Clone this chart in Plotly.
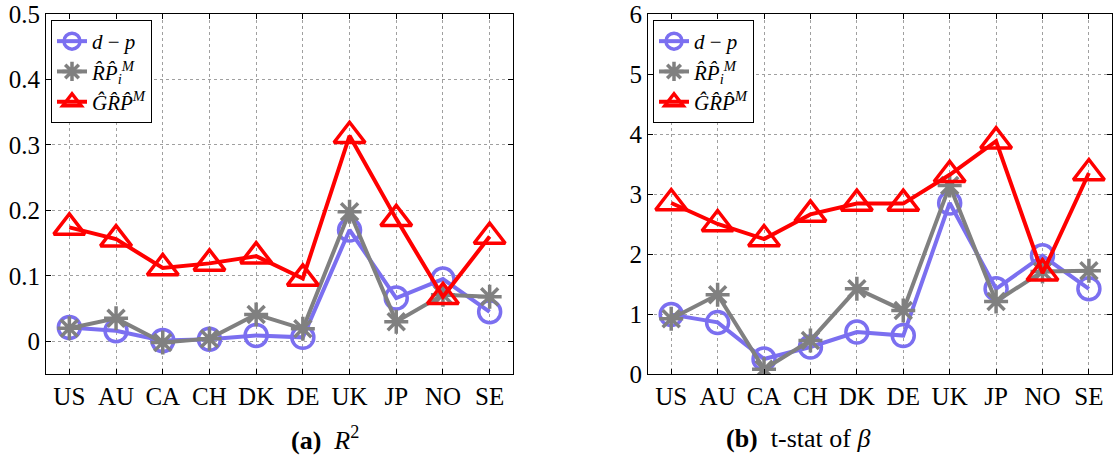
import plotly.graph_objects as go

countries = ["US", "AU", "CA", "CH", "DK", "DE", "UK", "JP", "NO", "SE"]

# Panel (a): R^2
r2_dp = [0.021, 0.016, 0.001, 0.003, 0.009, 0.006, 0.170, 0.066, 0.095, 0.045]
r2_rp = [0.020, 0.035, -0.002, 0.004, 0.041, 0.019, 0.198, 0.030, 0.071, 0.068]
r2_grp = [0.174, 0.156, 0.112, 0.119, 0.130, 0.096, 0.314, 0.187, 0.068, 0.160]

# Panel (b): t-stat of beta
t_dp = [0.99, 0.86, 0.25, 0.45, 0.70, 0.64, 2.85, 1.42, 1.97, 1.42]
t_rp = [0.92, 1.32, 0.08, 0.56, 1.42, 1.06, 3.14, 1.21, 1.71, 1.72]
t_grp = [2.85, 2.50, 2.25, 2.66, 2.84, 2.84, 3.32, 3.88, 1.68, 3.35]
t_crit = 1.96

r2_ticks = [0, 0.1, 0.2, 0.3, 0.4, 0.5]
r2_ticklabels = ["0", "0.1", "0.2", "0.3", "0.4", "0.5"]
t_ticks = [0, 1, 2, 3, 4, 5, 6]

names = ["<i>d</i> − <i>p</i>",
         "<i>R̂P̂</i><sub><i>i</i></sub><sup><i>M</i></sup>",
         "<i>ĜR̂P̂</i><sup><i>M</i></sup>"]

BLUE = "#7B6FF0"
GRAY = "#808080"
RED = "#FF0000"
FONT = "Liberation Serif, Times New Roman, serif"

styles = [
    dict(color=BLUE, symbol="circle-open", size=22),
    dict(color=GRAY, symbol="asterisk-open", size=20),
    dict(color=RED, symbol="triangle-up-open", size=27),
]

fig = go.Figure()

def add_panel(series, xa, ya, legend):
    for s, st, nm in zip(series, styles, names):
        fig.add_trace(go.Scatter(
            x=countries, y=s, mode="lines+markers", name=nm,
            line=dict(color=st["color"], width=4),
            marker=dict(symbol=st["symbol"], size=st["size"], color=st["color"],
                        line=dict(color=st["color"], width=3.5)),
            xaxis=xa, yaxis=ya, legend=legend,
        ))

add_panel([r2_dp, r2_rp, r2_grp], "x", "y", "legend")
add_panel([t_dp, t_rp, t_grp], "x2", "y2", "legend2")

# critical value line
fig.add_trace(go.Scatter(
    x=[-0.5, 9.5], y=[t_crit, t_crit], mode="lines",
    line=dict(color="black", width=5, dash="dash"),
    xaxis="x2", yaxis="y2", showlegend=False, hoverinfo="skip",
))

ydom = [99 / 473, 459 / 473]
axis_common = dict(
    showline=True, linecolor="black", linewidth=1.2, mirror="ticks",
    ticks="inside", ticklen=5, tickcolor="black", automargin=False,
    showgrid=True, gridcolor="#a0a0a0", griddash="dot", gridwidth=1,
    zeroline=False, tickfont=dict(family=FONT, size=25, color="black"),
)

leg_common = dict(xanchor="left", yanchor="top",
                  bgcolor="white", bordercolor="black", borderwidth=1,
                  font=dict(family=FONT, size=21, color="black"),
                  tracegroupgap=0, itemwidth=30)

fig.update_layout(
    template="none",
    width=1113, height=473,
    margin=dict(l=0, r=0, t=0, b=0, autoexpand=False),
    paper_bgcolor="white", plot_bgcolor="white",
    font=dict(family=FONT, color="black"),
    xaxis=dict(domain=[46 / 1113, 513 / 1113], range=[-0.5, 9.5],
               type="category", anchor="y", **axis_common),
    yaxis=dict(domain=ydom, range=[-0.05, 0.5], tickvals=r2_ticks,
               ticktext=r2_ticklabels, anchor="x", **axis_common),
    xaxis2=dict(domain=[648 / 1113, 0.9992], range=[-0.5, 9.5],
                type="category", anchor="y2", **axis_common),
    yaxis2=dict(domain=ydom, range=[0, 6], tickvals=t_ticks, anchor="x2",
                **axis_common),
    legend=dict(x=51 / 1113, y=1 - 20 / 473, **leg_common),
    legend2=dict(x=653 / 1113, y=1 - 20 / 473, **leg_common),
    annotations=[
        dict(text="<b>(a)</b>  <i>R</i><sup>2</sup>", x=289 / 1113, y=1 - 438 / 473,
             xref="paper", yref="paper", showarrow=False, yanchor="middle",
             font=dict(family=FONT, size=26, color="black")),
        dict(text="<b>(b)</b>  t-stat of <i>β</i>", x=872 / 1113, y=1 - 438 / 473,
             xref="paper", yref="paper", showarrow=False, yanchor="middle",
             font=dict(family=FONT, size=26, color="black")),
    ],
)

fig.write_html("out.html", config={"displayModeBar": False},
               post_script="document.body.style.margin='0';document.body.style.overflow='hidden';")
